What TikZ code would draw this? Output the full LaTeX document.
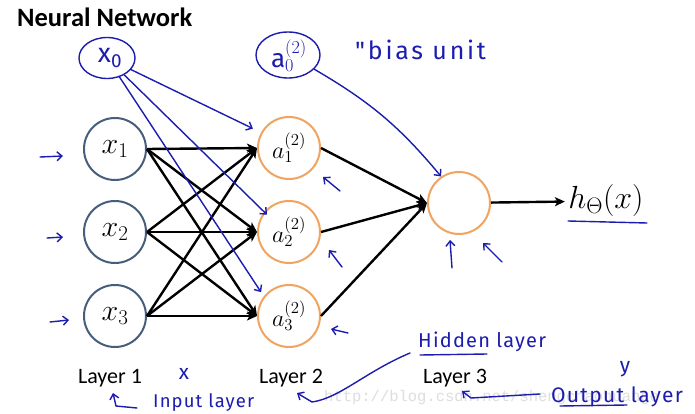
\RequirePackage{fix-cm}
\documentclass[tikz,border=0pt]{standalone}
\usepackage[no-math]{fontspec}
\setmainfont{Carlito}
\newfontfamily\handfont[LetterSpace=6]{Fira Sans}
\newfontfamily\wmfont{Liberation Mono}
\usetikzlibrary{arrows.meta,shapes.geometric,positioning}
\definecolor{inblue}{RGB}{70,94,124}
\definecolor{hidorange}{RGB}{240,164,96}
\definecolor{penblue}{RGB}{28,28,175}
\definecolor{wmgray}{RGB}{222,222,222}
\tikzset{
  unit/.style={circle, line width=2pt, minimum size=62pt, inner sep=0pt},
  inunit/.style={unit, draw=inblue, font=\fontsize{30}{32}\selectfont},
  hidunit/.style={unit, draw=hidorange, font=\fontsize{24}{26}\selectfont},
  wire/.style={line width=2.4pt, -{Stealth[length=10pt,width=9pt,inset=2.5pt]}},
  pen/.style={draw=penblue, line width=1.4pt, line cap=round, line join=round},
  penarrow/.style={pen, -{Straight Barb[length=5pt,width=9pt]}},
  penring/.style={ellipse, pen, inner sep=0pt},
  handtext/.style={text=penblue, font=\handfont\fontsize{#1}{#1}\selectfont},
  handtext/.default=21,
  layerlabel/.style={font=\fontsize{22}{26}\selectfont, anchor=base}
}

\begin{document}
\begin{tikzpicture}[x=1pt, y=-1pt]
  \useasboundingbox[fill=white] (0,0) rectangle (695,414);
  % watermark
  \node[font=\wmfont\fontsize{15.5}{17}\selectfont, text=wmgray, anchor=base west, inner sep=0pt] (wm) at (324,401) {http://blog.csdn.net/shengchaohuange};
  \node[font=\bfseries\fontsize{26.5}{30}\selectfont, anchor=base west, inner sep=0pt] (title) at (17,27) {Neural Network};

  % units
  \node[inunit] (x1) at (115,149) {$x_1$};
  \node[inunit] (x2) at (115,232) {$x_2$};
  \node[inunit] (x3) at (115,316) {$x_3$};
  \node[hidunit] (a1) at (289,148) {$a^{(2)}_1$};
  \node[hidunit] (a2) at (289,232) {$a^{(2)}_2$};
  \node[hidunit] (a3) at (289,316) {$a^{(2)}_3$};
  \node[hidunit] (out) at (459,203) {};
  \node[font=\fontsize{32}{34}\selectfont] (h) at (606,201) {$h_\Theta(x)$};

  \foreach \i in {1,2,3}
    \foreach \j in {1,2,3}
      \draw[wire] (x\i.east) -- (a\j.west);
  \foreach \j in {1,2,3}
    \draw[wire] (a\j.east) -- (out.west);
  \draw[wire] (out) -- (h);

  % layer names
  \node[layerlabel] (lay1) at (110,383) {Layer 1};
  \node[layerlabel] (lay2) at (291,383) {Layer 2};
  \node[layerlabel] (lay3) at (455,383) {Layer 3};

  % pen notes
  \node[penring, minimum width=56pt, minimum height=41pt] (x0) at (107,58) {};
  \node[handtext=27] (x0txt) at (110,58) {x\textsubscript{0}};
  \node[penring, minimum width=64pt, minimum height=46pt] (a0) at (288,55) {};
  \node[handtext=26] (a0txt) at (289,56) {a$^{(2)}_0$};
  \node[handtext=25, anchor=base west, inner sep=0pt] (bias) at (355,60) {\addfontfeature{LetterSpace=11}"bias unit};

  \draw[penarrow, shorten >=9pt] (x0) -- (a1.151);
  \draw[penarrow, shorten >=-4pt] (x0) -- (a2.141);
  \draw[penarrow, shorten >=5pt] (x0) -- (a3.142);
  \draw[penarrow] (a0) to[bend left=10] (out.124);

  \draw[penarrow] (40,157) -- (63,156);
  \draw[penarrow] (47,238) -- (63,237);
  \draw[penarrow] (50,322) -- (69,320);
  \draw[penarrow] (340,191) -- (323,177);
  \draw[penarrow] (342,267) -- (329,250);
  \draw[penarrow] (348,333) -- (331,329);
  \draw[penarrow] (452,268) -- (450,240);
  \draw[penarrow] (502,262) -- (483,243);
  \draw[pen] (568,221) -- (647,223);

  \node[handtext] (cross) at (184,374) {x};
  \draw[penarrow] (137,408) -- (116,406) -- (113,393);
  \node[handtext=18.5, anchor=base west, inner sep=0pt] (inlab) at (153,407) {Input layer};
  \node[handtext=20, anchor=base west, inner sep=0pt] (hidlab) at (418,347) {Hidden layer};
  \draw[pen] (420,355) -- (487,354);
  \draw[penarrow] (410,353) .. controls (365,372) and (340,398) .. (312,402) -- (297,393);
  \node[handtext] (ylab) at (625,369) {y};
  \node[handtext=21, anchor=base west, inner sep=0pt] (outlab) at (551,402) {Output layer};
  \draw[pen] (560,406) -- (627,405);
  \draw[penarrow] (540,394) -- (471,398) -- (462,391);
\end{tikzpicture}
\end{document}
